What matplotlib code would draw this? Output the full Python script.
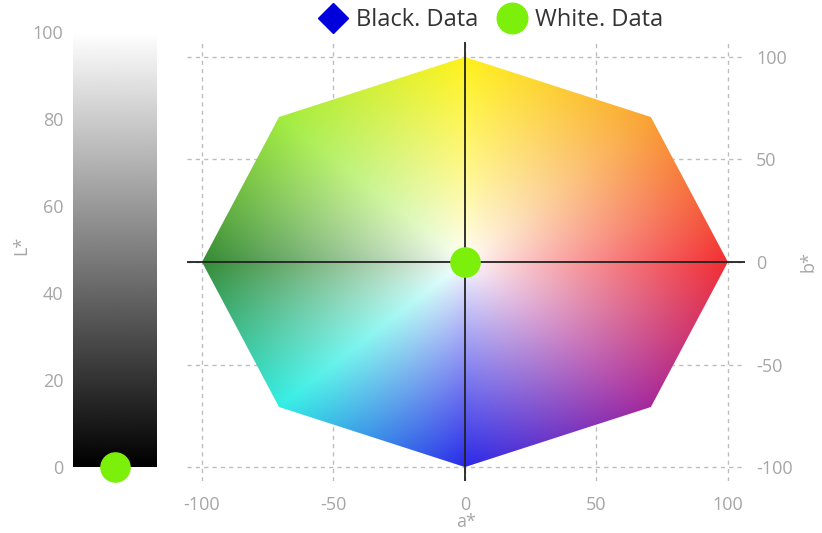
import numpy as np
import matplotlib
matplotlib.use("Agg")
import matplotlib.pyplot as plt
from matplotlib.patches import Polygon
from matplotlib.lines import Line2D

plt.rcParams['font.family'] = ['Open Sans', 'DejaVu Sans']
plt.rcParams['axes.unicode_minus'] = False

# --- data -------------------------------------------------------------
# chroma gamut outline: octagon of radius 100 in the a*/b* plane
gamut_angles = [0, 45, 90, 135, 180, 225, 270, 315]
gamut_radius = 100

# hue colours at the gamut vertices (angle in degrees from +a*)
hue_angles = [0, 45, 90, 135, 180, 225, 270, 315, 360]
hue_colors = [
    (242, 45, 50),    # red      (+a*)
    (250, 162, 50),   # orange
    (255, 242, 25),   # yellow   (+b*)
    (160, 236, 60),   # yellow-green
    (52, 138, 52),    # green    (-a*)
    (50, 238, 228),   # cyan
    (42, 42, 232),    # blue     (-b*)
    (165, 40, 155),   # purple
    (242, 45, 50),    # red again to close the circle
]

white_a = [0.0]
white_b = [0.0]
white_L = [0.0]
black_a = []
black_b = []

l_ticks = [0, 20, 40, 60, 80, 100]
ab_ticks = [-100, -50, 0, 50, 100]

tick_gray = '#a6a6a6'
green = '#7cf00a'

fig = plt.figure(figsize=(8.22, 5.33), dpi=100)

# --- lightness bar ------------------------------------------------------
axL = fig.add_axes([73 / 822, 1 - 467 / 533, 84 / 822, 435 / 533])
grad = np.linspace(0, 1, 512).reshape(-1, 1)
axL.imshow(grad, cmap='gray', origin='lower', extent=[0, 1, 0, 100],
           aspect='auto', vmin=0, vmax=1)
axL.set_xlim(0, 1)
axL.set_ylim(0, 100)
axL.set_xticks([])
axL.set_yticks(l_ticks)
axL.tick_params(axis='y', length=0, pad=7, labelsize=13, labelcolor=tick_gray)
for s in axL.spines.values():
    s.set_visible(False)
axL.set_ylabel('L*', color=tick_gray, fontsize=13)
axL.yaxis.set_label_coords(-0.51, 0.51)
axL.plot([0.5] * len(white_L), white_L, 'o', color=green, markersize=21,
         clip_on=False, zorder=5)

# --- a*/b* plane ----------------------------------------------------------
ax = fig.add_axes([187 / 822, 1 - 481 / 533, 558 / 822, 439 / 533])
ax.set_xlim(-105.7, 106.5)
ax.set_ylim(-106.8, 107.3)

n = 500
a = np.linspace(-100, 100, n)
b = np.linspace(-100, 100, n)
A, B = np.meshgrid(a, b)
ang = np.degrees(np.arctan2(B, A)) % 360
r = np.clip(np.hypot(A, B) / gamut_radius, 0, 1)
hc = np.array(hue_colors, dtype=float) / 255.0
rgb = np.stack([np.interp(ang, hue_angles, hc[:, k]) for k in range(3)], axis=-1)
t = (r ** 0.85)[..., None]
img = (1 - t) * 1.0 + t * rgb

verts = [(gamut_radius * np.cos(np.radians(g)), gamut_radius * np.sin(np.radians(g)))
         for g in gamut_angles]
poly = Polygon(verts, closed=True, facecolor='none', edgecolor='none')
ax.add_patch(poly)
im = ax.imshow(img, origin='lower', extent=[-100, 100, -100, 100],
               aspect='auto', interpolation='bilinear', zorder=1)
im.set_clip_path(poly)

ax.set_xticks(ab_ticks)
ax.set_yticks(ab_ticks)
ax.grid(True, color='#bdbdbd', linestyle=(0, (3, 3)), linewidth=1.0, zorder=0)
ax.set_axisbelow(True)
ax.axhline(0, color='#222222', linewidth=1.3, zorder=3)
ax.axvline(0, color='#222222', linewidth=1.3, zorder=3)
for s in ax.spines.values():
    s.set_visible(False)
ax.yaxis.tick_right()
ax.yaxis.set_label_position('right')
ax.tick_params(axis='both', length=0, labelsize=13, labelcolor=tick_gray)
ax.tick_params(axis='y', pad=8)
ax.tick_params(axis='x', pad=11)
ax.set_xlabel('a*', color=tick_gray, fontsize=13)
ax.xaxis.set_label_coords(0.5, -0.073)
ax.set_ylabel('b*', color=tick_gray, fontsize=13, rotation=90)
ax.yaxis.set_label_coords(1.098, 0.499)

ax.plot(black_a, black_b, 'D', color='#0000dd', markersize=15, zorder=5)
ax.plot(white_a, white_b, 'o', color=green, markersize=21, zorder=5)

handles = [
    Line2D([], [], marker='D', linestyle='none', color='#0000dd', markersize=15),
    Line2D([], [], marker='o', linestyle='none', color=green, markersize=22),
]
fig.legend(handles, ['Black. Data', 'White. Data'], loc='center',
           bbox_to_anchor=(491 / 822, 1 - 20 / 533), ncol=2, frameon=False,
           fontsize=17, handletextpad=0.4, columnspacing=0.8,
           labelcolor='#333333', handlelength=1.2, borderpad=0)

fig.savefig('out.png', dpi=100)
